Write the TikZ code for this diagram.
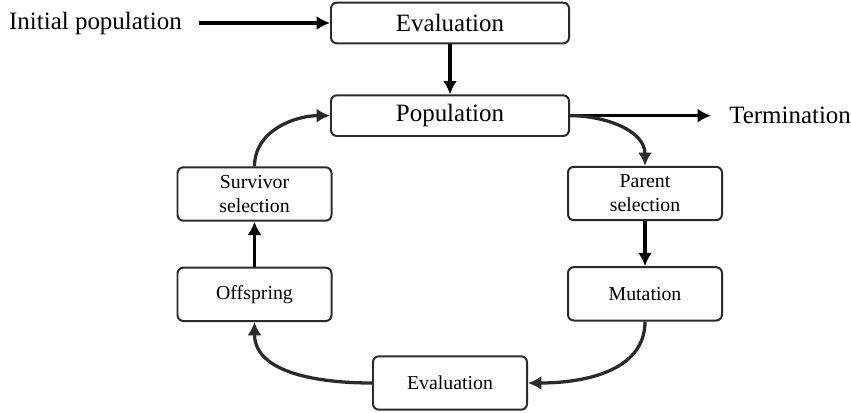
\documentclass[tikz,border=0pt]{standalone}
\usepackage{fontspec}
\setmainfont{Liberation Serif}
\usepackage{xcolor}
\usetikzlibrary{arrows.meta, positioning}
\definecolor{edgegray}{HTML}{2A2A2A}

\begin{document}
\begin{tikzpicture}[
    x=0.03cm, y=-0.03cm,
    bigbox/.style={rectangle, rounded corners=5pt, draw=edgegray, line width=1.7pt, minimum width=7.14cm, minimum height=1.22cm, font=\fontsize{21.3}{24}\selectfont},
    stagebox/.style={rectangle, rounded corners=5pt, draw=edgegray, line width=1.7pt, align=center, minimum width=4.62cm, minimum height=1.6cm, font=\fontsize{16.9}{20.5}\selectfont},
    plaintext/.style={inner sep=0pt, font=\fontsize{21.3}{24}\selectfont},
    arrow/.style={-{Latex[length=4mm, width=4.2mm]}, line width=2.8pt, color=black},
    curvearrow/.style={arrow, color=edgegray}
]
\useasboundingbox (0,0) rectangle (851,412);

\node[bigbox] (evaltop) at (450,23) {Evaluation};
\node[bigbox, below=1.5cm of evaltop] (pop) {Population};
\node[plaintext, left=4.44cm of evaltop] (init) {Initial population};
\node[plaintext, right=4.77cm of pop] (term) {Termination};

\node[stagebox] (parent) at (645,193.5) {Parent\\selection};
\node[stagebox, below=1.35cm of parent] (mutation) {Mutation};
\node[stagebox] (evalbot) at (450,383) {Evaluation};
\node[stagebox] (survivor) at (254.5,194) {Survivor\\selection};
\node[stagebox, below=1.35cm of survivor] (offspring) {Offspring};

\draw[arrow, shorten <=0.5cm] (init) -- (evaltop);
\draw[arrow] (evaltop) -- (pop);
\draw[arrow, shorten >=0.54cm] (pop.east) -- (term.west);
\draw[curvearrow] (pop.east) to[out=0,in=90] (parent.north);
\draw[arrow] (parent) -- (mutation);
\draw[curvearrow] (mutation.south) to[out=270,in=0] (evalbot.east);
\draw[curvearrow] (evalbot.west) to[out=180,in=270] (offspring.south);
\draw[arrow] (offspring) -- (survivor);
\draw[curvearrow] (survivor.north) to[out=90,in=180] (pop.west);
\end{tikzpicture}
\end{document}
